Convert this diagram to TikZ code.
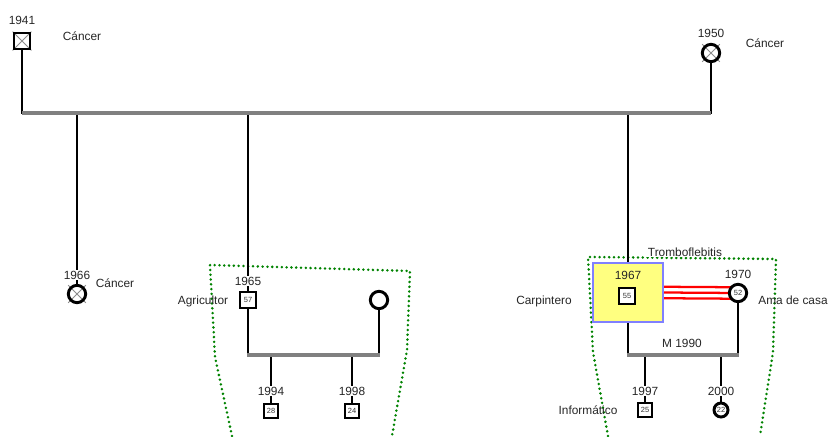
\documentclass[tikz,border=0pt]{standalone}
\usepackage{fontspec}
\setmainfont{Liberation Sans}
\usetikzlibrary{backgrounds}
\definecolor{tracegreen}{RGB}{0,130,0}
\definecolor{hlblue}{RGB}{128,128,255}
\definecolor{hlyellow}{RGB}{255,255,128}
\begin{document}
\begin{tikzpicture}[x=0.75pt,y=-0.75pt,
  male/.style={draw=black, line width=2.2pt, minimum size=12pt, inner sep=0pt, fill=white, font=\fontsize{5.6}{6}\selectfont, text=black!80},
  female/.style={circle, draw=black, line width=2.2pt, minimum size=13pt, inner sep=0pt, fill=white, font=\fontsize{5.6}{6}\selectfont, text=black!80},
  deceased/.style={fill=none},
  kid/.style={minimum size=10.5pt},
  txt/.style={font=\fontsize{8.9}{10}\selectfont, text=black!85, inner sep=0.5pt},
  yr/.style={txt, fill=white},
  vline/.style={line width=2.2pt, draw=black},
  hline/.style={line width=2.4pt, draw=black!50},
  grouptrace/.style={draw=tracegreen, line width=2.1pt, line cap=round, dash pattern=on 0pt off 3.6pt},
  xmark/.style={draw=black!45, line width=0.6pt},
  redline/.style={draw=red, line width=1.7pt},
]
\useasboundingbox (0,0) rectangle (829,436);

% group outlines
\draw[grouptrace] (232,436) -- (215,357) -- (210,265) -- (410,271) -- (407,350) -- (392,436);
\draw[grouptrace] (608,436) -- (593,352) -- (588,257) -- (776,259) -- (773,352) -- (760,436);

% generation I
\node[male, deceased] (m1941) at (22,41) {};
\node[female, deceased] (f1950) at (711,53) {};
\begin{scope}[on background layer]
  \draw[xmark] (m1941.north west) -- (m1941.south east);
  \draw[xmark] (m1941.north east) -- (m1941.south west);
  \foreach \a in {45,135,225,315} \draw[xmark] (f1950.center) -- ++(\a:12.5);
\end{scope}
\node[txt] (y1941) at (22,20) {1941};
\node[txt] (t1941) at (82,36) {Cáncer};
\node[txt] (y1950) at (711,33) {1950};
\node[txt] (t1950) at (765,43) {Cáncer};

\coordinate (topL) at (22,113);
\coordinate (topR) at (711,113);
\coordinate (d1) at (77,113);
\coordinate (d2) at (248,113);
\coordinate (d3) at (628,113);

% generation II
\node[female, deceased] (f1966) at (77,294) {};
\begin{scope}[on background layer]
  \foreach \a in {45,135,225,315} \draw[xmark] (f1966.center) -- ++(\a:12.5);
\end{scope}
\node[male] (m1965) at (248,300) {57};
\node[female] (w1965) at (379,300) {};

\node[draw=hlblue, fill=hlyellow, line width=1.5pt,
      minimum width=52.5pt, minimum height=44.25pt, inner sep=0pt] (hl) at (628,292.5) {};
\node[male] (m1967) at (627,296) {55};

% connectors
\draw[vline] (m1941) -- ([yshift=-1pt]topL);
\draw[vline] (f1950) -- ([yshift=-1pt]topR);
\draw[vline] (d1) -- (f1966);
\draw[vline] (d2) -- (m1965);
\draw[vline] (d3) -- (hl);
\draw[hline] (topL) -- (topR);

% left family
\coordinate (sL) at (248,355);
\coordinate (sR) at (379,355);
\coordinate (k1) at (271,355);
\coordinate (k2) at (352,355);
\node[male, kid] (m1994) at (271,411) {28};
\node[male, kid] (m1998) at (352,411) {24};
\draw[vline] (m1965) -- (sL);
\draw[vline] (w1965) -- (sR);
\draw[vline] (k1) -- (m1994);
\draw[vline] (k2) -- (m1998);
\draw[hline] ([xshift=-0.8pt]sL) -- ([xshift=0.8pt]sR);

% right family
\coordinate (w1970c) at (738,293);
\draw[redline] ([yshift=4.3pt]hl.east) -- ([yshift=4.3pt]w1970c);
\draw[redline] (hl.east) -- (w1970c);
\draw[redline] ([yshift=-4.3pt]hl.east) -- ([yshift=-4.3pt]w1970c);
\node[female] (w1970) at (w1970c) {52};
\coordinate (rL) at (628,355);
\coordinate (rR) at (738,355);
\coordinate (k3) at (645,355);
\coordinate (k4) at (721,355);
\node[male, kid] (m1997) at (645,410) {25};
\node[female, kid] (f2000) at (721,410) {22};
\draw[vline] (hl) -- (rL);
\draw[vline] (w1970) -- (rR);
\draw[vline] (k3) -- (m1997);
\draw[vline] (k4) -- (f2000);
\draw[hline] ([xshift=-0.8pt]rL) -- ([xshift=0.8pt]rR);

% labels
\node[yr] (y1966) at (77,275) {1966};
\node[txt] (t1966) at (115,283) {Cáncer};
\node[yr] (y1965) at (248,281) {1965};
\node[txt] (t1965) at (203,301) {Agricultor};
\node[yr] (y1994) at (271,391) {1994};
\node[yr] (y1998) at (352,391) {1998};
\node[txt, fill=white] (trombo) at (685,252) {Tromboflebitis};
\node[txt] (y1967) at (628,275) {1967};
\node[txt] (y1970) at (738,274) {1970};
\node[txt] (t1967) at (544,301) {Carpintero};
\node[txt] (t1970) at (793,300) {Ama de casa};
\node[txt] (m1990) at (682,343) {M 1990};
\node[yr] (y1997) at (645,391) {1997};
\node[yr] (y2000) at (721,391) {2000};
\node[txt] (t1997) at (588,410) {Informático};
\end{tikzpicture}
\end{document}
